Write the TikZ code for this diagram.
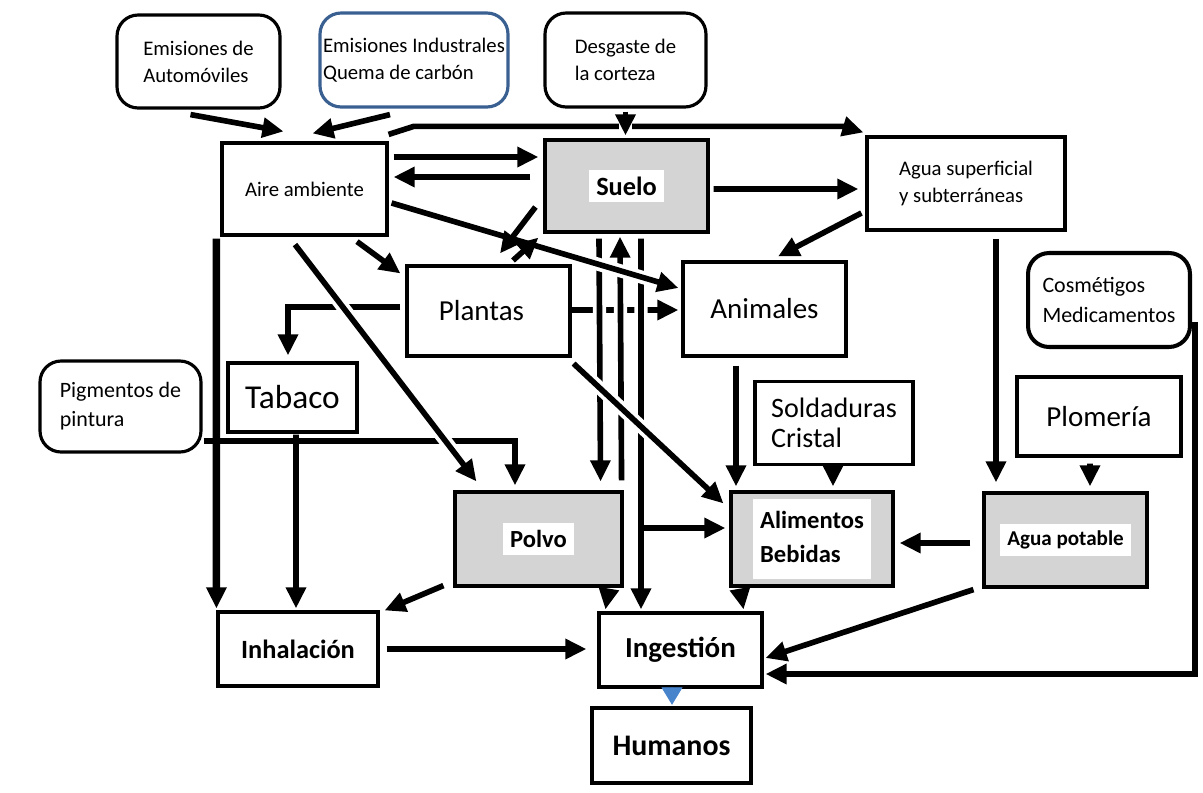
\documentclass[tikz,border=0pt]{standalone}
\usepackage{fontspec}
\setmainfont{Carlito}
\usetikzlibrary{arrows.meta,calc}
\definecolor{indblue}{RGB}{58,96,146}
\definecolor{tipblue}{RGB}{72,132,204}
\newcommand{\fs}[2]{\fontsize{#1}{#2}\selectfont}
\newcommand{\wbox}[1]{{\setlength{\fboxsep}{4pt}\colorbox{white}{#1}}}

\begin{document}
\begin{tikzpicture}[x=0.02cm,y=-0.02cm,
    box/.style={draw,line width=1.8pt,inner sep=0pt,align=left,font=\fs{11.8}{15.5}},
    srcbox/.style={box,rounded corners=12pt},
    soil/.style={box,fill=black!17},
    arr/.style={line width=3.2pt,-{Triangle[length=12pt,width=11pt]}},
    gap/.style={preaction={draw=white,line width=7.5pt,-}}]
    \useasboundingbox (0,0) rectangle (1203,792);
    % Sources
    \node[srcbox,minimum width=3.26cm,minimum height=1.86cm] (auto) at (198.5,61.5) {Emisiones de\\Automóviles};
    \node[srcbox,draw=indblue,minimum width=3.76cm,minimum height=1.88cm] (indus) at (414,60) {Emisiones Industrales\\Quema de carbón};
    \node[srcbox,minimum width=3.22cm,minimum height=1.88cm] (desg) at (625.5,60) {Desgaste de\\la corteza};
    \node[srcbox,line width=2.3pt,minimum width=3.24cm,minimum height=1.88cm,font=\fs{12.5}{17}] (cosm) at (1109,300) {Cosmétigos\\Medicamentos};
    \node[srcbox,minimum width=3.22cm,minimum height=1.82cm,font=\fs{12.5}{16.5}] (pigm) at (120.5,406.5) {Pigmentos de\\pintura};
    % Media
    \node[box,minimum width=3.30cm,minimum height=1.84cm] (aire) at (304.5,189) {Aire ambiente};
    \node[soil,minimum width=3.26cm,minimum height=1.84cm,font=\bfseries\fs{15}{18}] (suelo) at (626.5,186) {\wbox{Suelo}};
    \node[box,minimum width=3.96cm,minimum height=1.86cm] (agua) at (966,183.5) {Agua superficial\\y subterráneas};
    \node[box,minimum width=3.26cm,minimum height=1.80cm,font=\fs{16.5}{20}] (plantas) at (488.5,311) {Plantas\hspace{8pt}};
    \node[box,minimum width=3.26cm,minimum height=1.88cm,font=\fs{16.5}{20}] (animales) at (764.5,309) {Animales};
    \node[box,minimum width=2.58cm,minimum height=1.38cm,font=\fs{19}{22}] (tabaco) at (292.5,397.5) {Tabaco};
    \node[box,minimum width=3.16cm,minimum height=1.66cm,font=\fs{16}{17}] (sold) at (834,423) {Soldaduras\\Cristal\hspace{10pt}};
    \node[box,minimum width=3.28cm,minimum height=1.58cm,font=\fs{16.5}{20}] (plom) at (1099,416.5) {Plomería};
    \node[soil,minimum width=3.34cm,minimum height=1.88cm,font=\bfseries\fs{14}{17}] (polvo) at (538.5,539) {\wbox{Polvo}};
    \node[soil,minimum width=3.24cm,minimum height=1.88cm,font=\bfseries\fs{14}{19}] (alim) at (812,539) {\wbox{\begin{tabular}{@{}l@{}}Alimentos\\Bebidas\end{tabular}}};
    \node[soil,minimum width=3.26cm,minimum height=1.88cm,font=\bfseries\fs{12}{15}] (potable) at (1065.5,540) {\wbox{Agua potable}};
    % Routes
    \node[box,minimum width=3.20cm,minimum height=1.48cm,font=\bfseries\fs{15}{18}] (inhal) at (298,649) {Inhalación};
    \node[box,minimum width=3.26cm,minimum height=1.48cm,font=\bfseries\fs{16.5}{20}] (inges) at (680.5,650) {Ingestión};
    \node[box,line width=2.5pt,minimum width=3.18cm,minimum height=1.50cm,font=\bfseries\fs{17}{20}] (hum) at (671.5,745.5) {Humanos};

    % Emissions into the air
    \draw[arr] ($(auto.south)+(-8,5)$) -- ($(aire.north)+(-21,-10)$);
    \draw[arr] ($(indus.south)+(-24,6)$) -- ($(aire.north)+(8,-8)$);
    \draw[arr] ($(aire.north east)+(0,-7)$) -- ++(25,-8) -- ($(agua.north west)+(-22,-9)$) -- ($(agua.north west)+(-2,-3)$);
    \draw[arr,gap] ($(desg.south)+(0,3)$) -- ($(suelo.north)+(-1,-3)$);
    % Air, soil and water
    \draw[arr] ($(aire.east)+(5,-32)$) -- ($(suelo.west)+(-5,-29)$);
    \draw[arr] ($(suelo.west)+(-13,-9)$) -- ($(aire.east)+(5,-12)$);
    \draw[arr] ($(suelo.east)+(4,3)$) -- ($(agua.west)+(-7,5.5)$);
    \draw[arr] ($(agua.west)+(-4,29.5)$) -- ($(animales.north)+(13.5,-4)$);
    % Plants
    \draw[arr] ($(aire.south)+(52.5,5)$) -- ($(plantas.north west)+(-5,9)$);
    \draw[arr] ($(plantas.west)+(-5,-4)$) -| ($(tabaco.north)+(-4.5,-6)$);
    \draw[arr] ($(plantas.east)+(0,-1)$) -- ($(animales.west)+(-3,1)$);
    \draw[arr] ($(pigm.east)+(1,34.5)$) -| ($(polvo.north)+(-23.5,-5)$);
    % Soil columns
    \draw[arr,gap] ($(suelo.south)+(-27.5,5)$) -- ($(polvo.north east)+(-23,-9)$);
    \draw[arr,gap] ($(polvo.north east)+(-2,-10)$) -- ($(suelo.south)+(-6.5,3)$);
    \draw[arr,gap] ($(suelo.south)+(14.5,5)$) -- ($(inges.north)+(-39.5,-2)$);
    \draw[arr] ($(alim.west)+(-90,-11)$) -- ($(alim.west)+(-4,-11)$);
    % Diagonals over the columns
    \draw[arr,gap] ($(aire.east)+(3,14)$) -- ($(animales.west)+(-3,-21)$);
    \draw[arr,gap] ($(plantas.south east)+(2,6)$) -- ($(alim.north west)+(-6,13)$);
    \draw[arr,gap] ($(aire.south)+(-9.5,8)$) -- ($(polvo.north west)+(23,-9)$);
    \draw[arr] ($(suelo.west)+(-8,21)$) -- ($(plantas.north)+(11.5,-11)$);
    \draw[arr] ($(plantas.north)+(24.5,-4)$) -- ($(suelo.south west)+(-5,4)$);
    % Inhalation
    \draw[arr,line width=4.2pt] ($(aire.south west)+(-4,2)$) -- ($(inhal.north west)+(0,-2)$);
    \draw[arr] ($(tabaco.south)+(3.5,1)$) -- ($(inhal.north)+(-2,-2)$);
    \draw[arr] ($(polvo.south west)+(-10,-2)$) -- ($(inhal.north east)+(5,0)$);
    % Food and water
    \draw[arr] ($(animales.south)+(-28.5,8)$) -- ($(alim.north)+(-76,-4)$);
    \draw[arr] ($(sold.south)+(-1,2)$) -- ($(alim.north)+(21,-4)$);
    \draw[arr] ($(agua.south)+(30,7)$) -- ($(potable.north)+(-69.5,-9)$);
    \draw[arr] ($(plom.south)+(-9,6)$) -- ($(potable.north)+(24.5,-5)$);
    \draw[arr] ($(potable.west)+(-12,3)$) -- ($(alim.east)+(5,4)$);
    % Ingestion
    \draw[arr] ($(polvo.south east)+(-15,3)$) -- ($(inges.north west)+(8,-2)$);
    \draw[arr] ($(alim.south west)+(11,4)$) -- ($(inges.north east)+(-20,-2)$);
    \draw[arr] ($(inhal.east)+(7,0)$) -- ($(inges.west)+(-11,-1)$);
    \draw[arr] ($(potable.south west)+(-9,1)$) -- ($(inges.east)+(2,8)$);
    \draw[arr,line width=3.8pt] ($(cosm.east)+(3,22)$) |- ($(inges.east)+(2,24)$);
    \draw[tipblue,line width=0.5pt,-{Triangle[length=10pt,width=12pt]}] ($(inges.south)+(-8.5,1)$) -- ($(hum.north)+(0.5,-1)$);
\end{tikzpicture}
\end{document}
